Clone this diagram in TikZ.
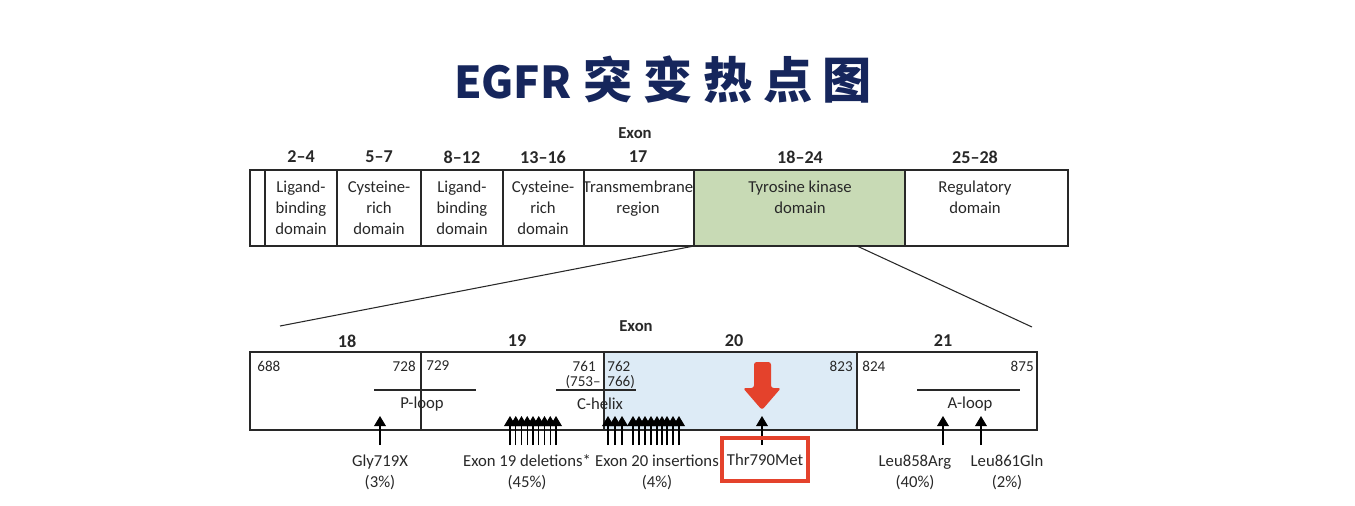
\documentclass[tikz,border=0pt]{standalone}
\usepackage{fontspec}
\setmainfont{Carlito}
\newfontfamily\cjk{Noto Sans CJK SC}
\usetikzlibrary{arrows.meta,positioning}
\definecolor{navy}{RGB}{22,38,92}
\definecolor{kinase}{RGB}{200,218,181}
\definecolor{helix}{RGB}{221,235,246}
\definecolor{alert}{RGB}{228,66,44}
\definecolor{ink}{RGB}{40,40,40}
\tikzset{
  >={Triangle[width=6.8pt,length=5.8pt]},
  bar/.style={draw=ink,line width=0.8pt},
  dom/.style={font=\fontsize{9.5}{11.9}\selectfont,text=ink,align=center,anchor=north,inner sep=0pt},
  exon/.style={font=\fontsize{10.3}{11}\selectfont\bfseries,text=ink,inner sep=0pt},
  resnum/.style={font=\fontsize{8.6}{10}\selectfont,text=ink,inner sep=0pt},
  motif/.style={font=\fontsize{9.5}{11}\selectfont,text=ink,inner sep=0pt},
  mut/.style={->,draw=black,line width=0.6pt},
  mutlabel/.style={font=\fontsize{9.5}{11.9}\selectfont,text=ink,align=center,inner sep=0pt},
}

\begin{document}
\begin{tikzpicture}[x=0.02cm,y=-0.02cm]
  \useasboundingbox[fill=white] (0,0) rectangle (1355,505);
  % title
  \node[font=\cjk\bfseries,text=navy] (title) at (663,80)
    {\fontsize{25}{30}\selectfont EGFR\hspace{7pt}\fontsize{28}{30}\selectfont
     突\hspace{6pt}变\hspace{6pt}热\hspace{6pt}点\hspace{6pt}图};

  % whole receptor
  \fill[kinase] (694,170) rectangle (905,246);
  \draw[bar] (250,170) rectangle (1068,246);
  \foreach \x in {265,337,421,503,584,694,905}
    \draw[bar] (\x,170) -- (\x,246);
  \node[exon,font=\fontsize{9.5}{10}\selectfont\bfseries] (exontop) at (635,133) {Exon};
  \foreach \x/\t/\e [count=\i] in {301/{Ligand-\\binding\\domain}/2--4,
      379/{Cysteine-\\rich\\domain}/5--7, 462/{Ligand-\\binding\\domain}/8--12,
      543/{Cysteine-\\rich\\domain}/13--16, 638/{Transmembrane\\region}/17,
      800/{Tyrosine kinase\\domain}/18--24, 975/{Regulatory\\domain}/25--28}{
    \node[dom] (d\i) at (\x,180.5) {\t};
    \node[exon] (e\i) at (\x,157) {\e};
  }

  % zoom into the kinase domain
  \coordinate (tkl) at (694,246);
  \coordinate (tkr) at (857,246);
  \coordinate (kinl) at (280,326);
  \coordinate (kinr) at (1032,327);
  \draw[ink,line width=0.6pt] (tkl) -- (kinl);
  \draw[ink,line width=0.6pt] (tkr) -- (kinr);

  % kinase domain
  \fill[helix] (604,352) rectangle (857,430);
  \draw[bar] (250,352) rectangle (1037,430);
  \foreach \x in {421,604,857}
    \draw[bar] (\x,352) -- (\x,430);
  \node[exon,font=\fontsize{9.5}{10}\selectfont\bfseries] (exonbot) at (636,326) {Exon};
  \foreach \x/\e in {347/18,517/19,734/20,943/21}
    \node[exon] (x\e) at (\x,341) {\e};
  \node[resnum,anchor=west] (n688) at (257,366) {688};
  \node[resnum,anchor=east] (n728) at (416,366) {728};
  \node[resnum,anchor=west] (n729) at (426,366) {729};
  \node[resnum,anchor=east] (n761) at (596,366) {761};
  \node[resnum,anchor=east] (n753) at (601,382) {(753--};
  \node[resnum,anchor=west] (n762) at (607,366) {762};
  \node[resnum,anchor=west] (n766) at (607,382) {766)};
  \node[resnum,anchor=east] (n823) at (853,366) {823};
  \node[resnum,anchor=west] (n824) at (862,366) {824};
  \node[resnum,anchor=east] (n875) at (1034,366) {875};

  % motifs
  \foreach \a/\b/\c/\t in {374/476/422/P-loop,556/636/600/C-helix,917/1020/970/A-loop}{
    \draw[ink,line width=0.6pt] (\a,390) -- (\b,390);
    \node[motif] (m\t) at (\c,404) {\t};
  }

  % mutations
  \foreach \x [count=\k] in {380,510,515.75,521.5,527.25,533,538.75,544.5,550.25,556,
      608,615,622,633,639,645,651,657,662,667,673,679,762,943,981}{
    \coordinate (base\k) at (\x,445);
    \coordinate (tip\k) at (\x,416);
    \draw[mut] (base\k) -- (tip\k);
  }
  \node[mutlabel] (gly) at (380,472) {Gly719X\\(3\%)};
  \node[mutlabel] (del19) at (527,472) {Exon 19 deletions*\\(45\%)};
  \node[mutlabel] (ins20) at (657,472) {Exon 20 insertions\\(4\%)};
  \node[mutlabel] (leu858) at (915,472) {Leu858Arg\\(40\%)};
  \node[mutlabel] (leu861) at (1007,472) {Leu861Gln\\(2\%)};
  \node[mutlabel,draw=alert,line width=2.3pt,minimum width=1.72cm,minimum height=0.86cm]
    (t790) at (765,459.5) {Thr790Met};

  % hotspot marker
  \fill[alert,rounded corners=1.5pt] (754,362) -- (771,362) -- (771,388) -- (781,388)
    -- (762,410) -- (743,388) -- (754,388) -- cycle;
\end{tikzpicture}
\end{document}
